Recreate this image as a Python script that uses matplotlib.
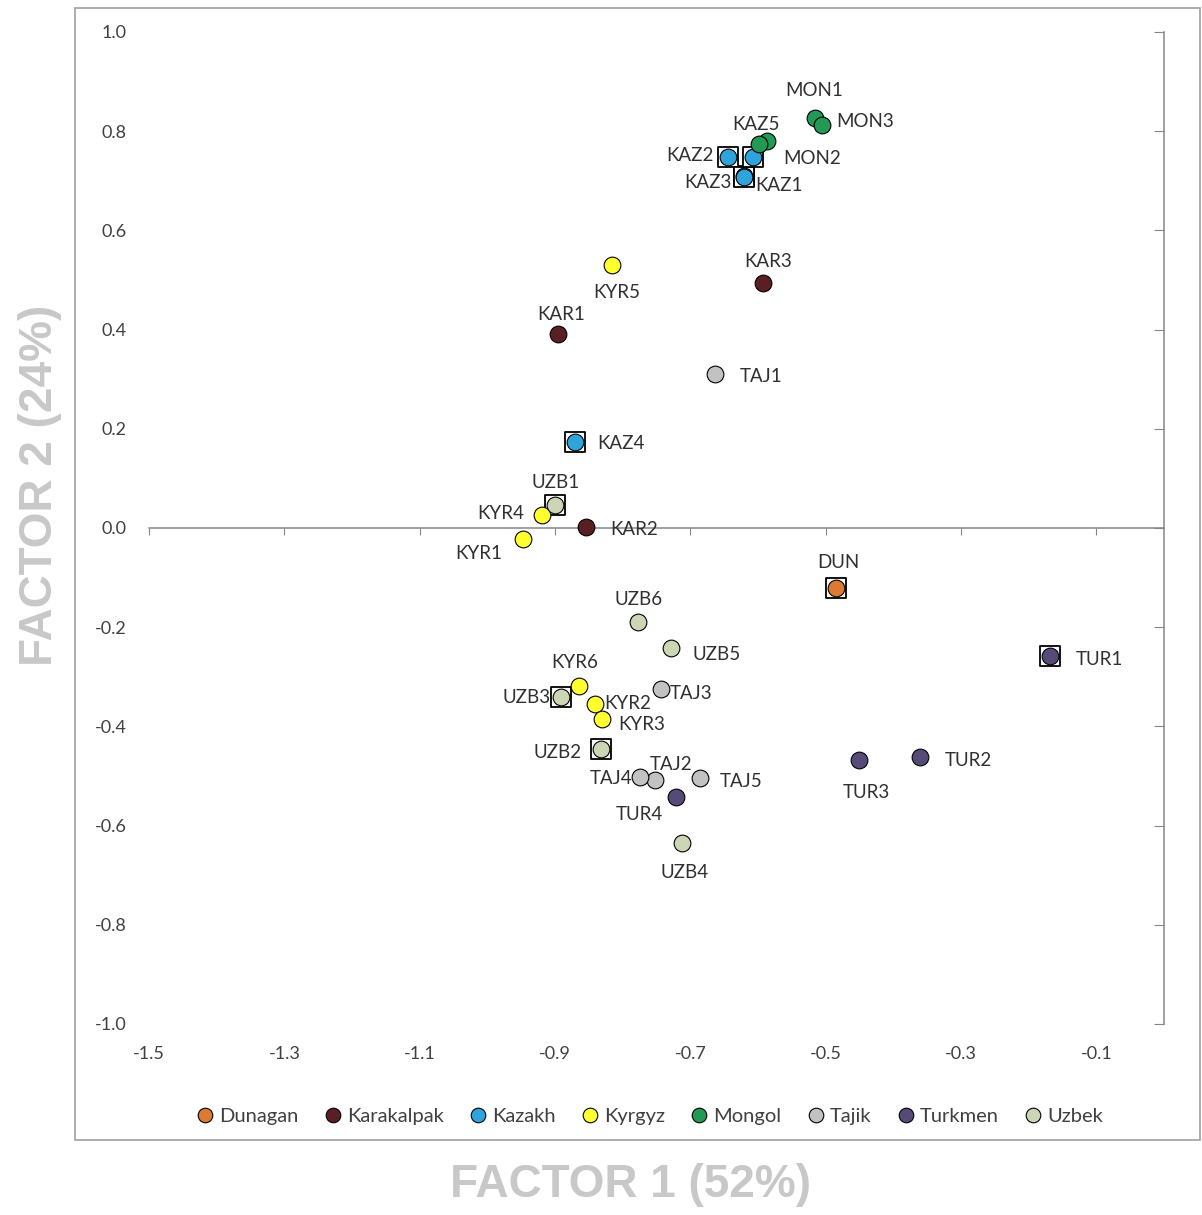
import matplotlib
matplotlib.use('Agg')
import matplotlib.pyplot as plt
from matplotlib.lines import Line2D
from matplotlib.patches import Rectangle

plt.rcParams['font.family'] = ['Lato', 'DejaVu Sans']
plt.rcParams['axes.unicode_minus'] = False

# populations and their colours
groups = ['Dunagan', 'Karakalpak', 'Kazakh', 'Kyrgyz', 'Mongol', 'Tajik', 'Turkmen', 'Uzbek']
group_colors = ['#DD7A32', '#5A1F22', '#2FA4DC', '#FFFF30', '#229A55', '#C2C2C2', '#564B78', '#CCD6B4']

# sample scores on the two factors
names = ['DUN',
         'KAR1', 'KAR2', 'KAR3',
         'KAZ1', 'KAZ2', 'KAZ3', 'KAZ4', 'KAZ5',
         'KYR1', 'KYR2', 'KYR3', 'KYR4', 'KYR5', 'KYR6',
         'MON1', 'MON2', 'MON3', '',
         'TAJ1', 'TAJ2', 'TAJ3', 'TAJ4', 'TAJ5',
         'TUR1', 'TUR2', 'TUR3', 'TUR4',
         'UZB1', 'UZB2', 'UZB3', 'UZB4', 'UZB5', 'UZB6']
sample_group = ['Dunagan',
                'Karakalpak', 'Karakalpak', 'Karakalpak',
                'Kazakh', 'Kazakh', 'Kazakh', 'Kazakh', 'Kazakh',
                'Kyrgyz', 'Kyrgyz', 'Kyrgyz', 'Kyrgyz', 'Kyrgyz', 'Kyrgyz',
                'Mongol', 'Mongol', 'Mongol', 'Mongol',
                'Tajik', 'Tajik', 'Tajik', 'Tajik', 'Tajik',
                'Turkmen', 'Turkmen', 'Turkmen', 'Turkmen',
                'Uzbek', 'Uzbek', 'Uzbek', 'Uzbek', 'Uzbek', 'Uzbek']
factor1 = [-0.485,
           -0.896, -0.854, -0.593,
           -0.620, -0.645, -0.621, -0.870, -0.607,
           -0.947, -0.841, -0.830, -0.919, -0.816, -0.864,
           -0.516, -0.587, -0.506, -0.599,
           -0.664, -0.752, -0.743, -0.774, -0.685,
           -0.168, -0.361, -0.451, -0.721,
           -0.900, -0.832, -0.891, -0.713, -0.728, -0.777]
factor2 = [-0.121,
           0.391, 0.002, 0.494,
           0.710, 0.748, 0.708, 0.173, 0.748,
           -0.022, -0.355, -0.385, 0.026, 0.530, -0.319,
           0.827, 0.780, 0.812, 0.774,
           0.310, -0.508, -0.325, -0.502, -0.504,
           -0.258, -0.462, -0.468, -0.542,
           0.046, -0.446, -0.341, -0.635, -0.242, -0.190]

# samples drawn with a frame around the marker
boxed = ['DUN', 'KAZ1', 'KAZ2', 'KAZ3', 'KAZ4', 'KAZ5', 'TUR1', 'UZB1', 'UZB2', 'UZB3']

# label placement (pixels from the marker)
label_offsets = {
    'MON1': (-1, 27), 'MON3': (44, 4), 'KAZ5': (3, 32), 'MON2': (45, -17),
    'KAZ2': (-38, 1), 'KAZ3': (-36, -6), 'KAZ1': (35, -10), 'KYR5': (5, -27),
    'KAR1': (3, 20), 'KAR3': (5, 21), 'TAJ1': (46, -2), 'KAZ4': (46, -1),
    'UZB1': (1, 23), 'KYR4': (-41, 2), 'KYR1': (-44, -15), 'KAR2': (48, -2),
    'DUN': (3, 26), 'TUR1': (49, -4), 'UZB6': (0, 23), 'UZB5': (45, -6),
    'KYR6': (-5, 24), 'UZB3': (-35, 0), 'KYR2': (33, 1), 'KYR3': (39, -6),
    'TAJ3': (30, -4), 'UZB2': (-43, -3), 'TAJ4': (-29, -2), 'TAJ2': (16, 15),
    'TAJ5': (41, -4), 'TUR4': (-37, -18), 'UZB4': (3, -30), 'TUR3': (8, -32),
    'TUR2': (49, -3),
}

x_ticks = [-1.5, -1.3, -1.1, -0.9, -0.7, -0.5, -0.3, -0.1]
y_ticks = [-1.0, -0.8, -0.6, -0.4, -0.2, 0.0, 0.2, 0.4, 0.6, 0.8, 1.0]

W, H = 1202, 1215
fig = plt.figure(figsize=(W / 100, H / 100), dpi=100)
ax = fig.add_axes([149 / W, 1 - 1024 / H, (1164 - 149) / W, 992 / H])

axis_gray = '#868686'
text_gray = '#404040'

# framed samples
bx = [factor1[i] for i, n in enumerate(names) if n in boxed]
by = [factor2[i] for i, n in enumerate(names) if n in boxed]
ax.scatter(bx, by, marker='s', s=225, facecolors='white', edgecolors='black',
           linewidths=1.3, zorder=3)

for g, c in zip(groups, group_colors):
    gx = [factor1[i] for i, sg in enumerate(sample_group) if sg == g]
    gy = [factor2[i] for i, sg in enumerate(sample_group) if sg == g]
    ax.scatter(gx, gy, s=145, c=c, edgecolors='black', linewidths=0.8, zorder=4)

for n, x, y in zip(names, factor1, factor2):
    if not n:
        continue
    dx, dy = label_offsets[n]
    ax.annotate(n, (x, y), xytext=(dx, dy), textcoords='offset pixels',
                ha='center', va='center', fontsize=13.5, color='#303030', zorder=5)

ax.set_xlim(-1.5, 0.0)
ax.set_ylim(-1.0, 1.0)

# axes: horizontal at y=0, vertical on the right
for side in ['left', 'top']:
    ax.spines[side].set_visible(False)
ax.spines['bottom'].set_position(('data', 0))
ax.spines['bottom'].set_color(axis_gray)
ax.spines['right'].set_color(axis_gray)
ax.spines['bottom'].set_linewidth(1.1)
ax.spines['right'].set_linewidth(1.1)

ax.set_xticks(x_ticks)
ax.tick_params(axis='x', direction='out', length=5, color=axis_gray, labelbottom=False)
ax.set_yticks(y_ticks)
ax.set_yticklabels([f'{v:.1f}' for v in y_ticks])
ax.tick_params(axis='y', left=False, right=True, labelleft=True, labelright=False,
               direction='in', length=7, color=axis_gray, pad=16,
               labelsize=13, labelcolor=text_gray)

sec = ax.secondary_xaxis('bottom')
sec.set_xticks(x_ticks)
sec.set_xticklabels([f'{v:.1f}' for v in x_ticks])
sec.spines['bottom'].set_visible(False)
sec.tick_params(length=0, pad=16, labelsize=13, labelcolor=text_gray)

# legend
handles = [Line2D([], [], marker='o', linestyle='none', markersize=10.5,
                  markerfacecolor=c, markeredgecolor='black', markeredgewidth=0.8)
           for c in group_colors]
fig.legend(handles, groups, loc='center', bbox_to_anchor=(650 / W, 1 - 1116 / H),
           ncol=8, frameon=False, handletextpad=0.3, columnspacing=1.3,
           handlelength=0.8, fontsize=14.5, labelcolor=text_gray)

# outer frame
fig.patches.append(Rectangle((75 / W, 1 - 1140 / H), (1200 - 75) / W, (1140 - 8) / H,
                             transform=fig.transFigure, fill=False,
                             edgecolor='#A0A0A0', linewidth=1.2))

fig.text(631 / W, 1 - 1185 / H, 'FACTOR 1 (52%)', ha='center', va='center',
         fontsize=33, fontweight='bold', color='#C8C8C8', family='Liberation Sans')
fig.text(40 / W, 1 - 485 / H, 'FACTOR 2 (24%)', ha='center', va='center', rotation=90,
         fontsize=33, fontweight='bold', color='#C8C8C8', family='Liberation Sans')

fig.savefig('out.png', dpi=100)
